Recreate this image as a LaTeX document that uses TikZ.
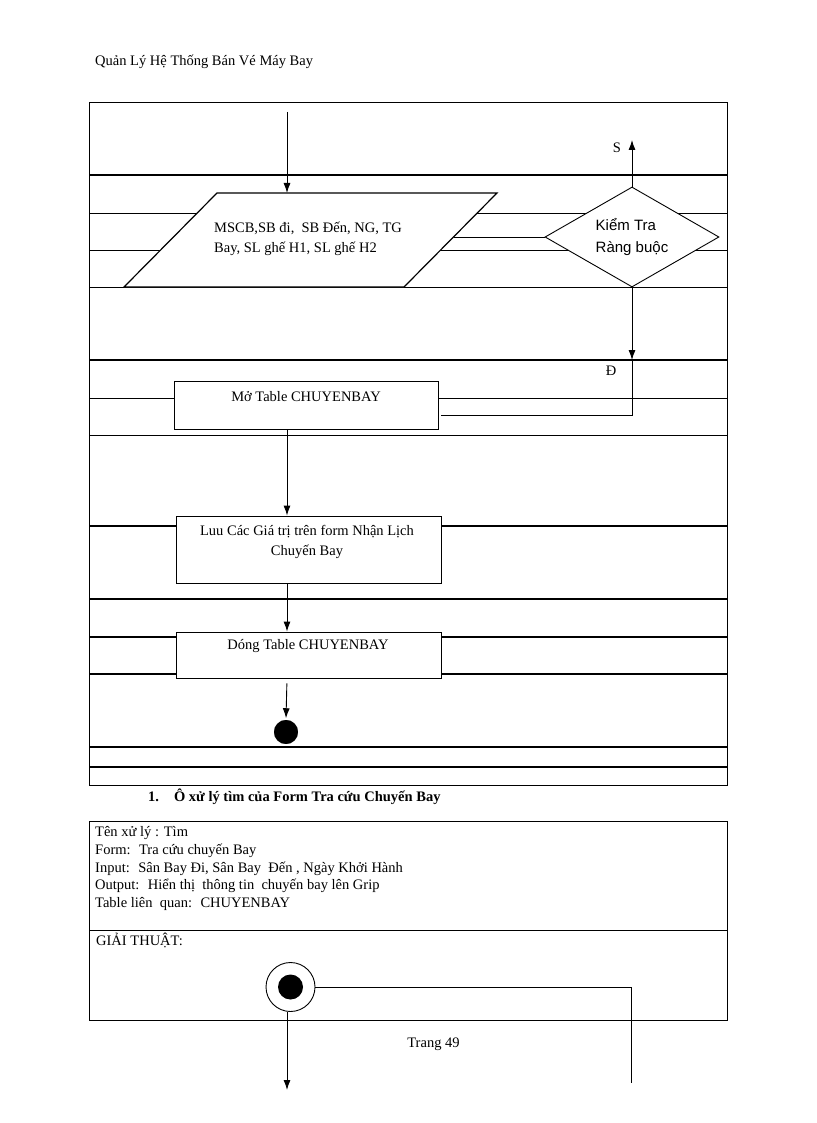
\documentclass[tikz,border=0pt]{standalone}
\usepackage{fontspec}
\setmainfont{Liberation Serif}
\newfontfamily\arialfont{Liberation Sans}
\usetikzlibrary{
    arrows.meta,
    shapes.geometric,
    positioning
}

\tikzset{
    txt/.style={font=\fontsize{14.5}{20}\selectfont, inner sep=0pt},
    box/.style={draw, fill=white, line width=0.9pt, inner sep=0pt},
    lane/.style={line width=0.9pt},
    thicklane/.style={line width=1.6pt},
    flow/.style={line width=0.9pt, -{Latex[length=10pt,width=7pt]}}
}

\begin{document}
\begin{tikzpicture}[x=1pt, y=-1pt]
                        \useasboundingbox (0,0) rectangle (816,1123);

                        \node[txt, anchor=west] (title) at (95,62) {Quản Lý Hệ Thống Bán Vé Máy Bay};

                        \draw[lane] (89,102) rectangle (727,785);
                        \foreach \y in {213,250,287,398,435}
                            \draw[lane] (89,\y) -- (727,\y);
                        \foreach \y in {175,360,526,599,637,674,747,767}
                            \draw[thicklane] (89,\y) -- (727,\y);

                        \draw[box, line width=1.2pt]
                        (124,287) -- (217,193) -- (497,193) -- (404,287) -- cycle;
                        \coordinate (inTop) at (287,193);
                        \coordinate (inRight) at (453.5,237);
                        \node[txt, align=left, anchor=west] (input) at (214,238.5)
                            {MSCB,SB đi,~ SB Đến, NG, TG\\Bay, SL ghế H1, SL ghế H2};

                        \node[diamond, draw, fill=white, line width=0.9pt, aspect=1.74,
                            minimum width=174pt, minimum height=100pt, inner sep=0pt, align=left,
                            font=\arialfont\fontsize{15}{22}\selectfont] (check) at (632,237)
                            {Kiểm Tra\\Ràng buộc};

                        \node[box, minimum width=264pt, minimum height=48pt] (mo) at (306,405) {};
                        \node[txt] (moText) at (306,397) {Mở Table CHUYENBAY};
                        \node[box, minimum width=265pt, minimum height=67pt] (luu) at (308.5,549.5) {};
                        \node[txt, align=center] (luuText) at (307,542)
                            {Luu Các Giá trị trên form Nhận Lịch\\Chuyến Bay};
                        \node[box, minimum width=265pt, minimum height=46pt] (dong) at (308.5,655) {};
                        \node[txt] (dongText) at (308,646) {Dóng Table CHUYENBAY};
                        \node[circle, fill=black, draw=white, line width=1.5pt,
                            minimum size=26pt, inner sep=0pt] (finish) at (286,732) {};

                        \coordinate (top) at (287,112);
                        \coordinate (sEnd) at (632,140);
                        \coordinate (dArrow) at (632,360);
                        \coordinate (dTurn) at (632,415);
                        \coordinate (dEnd) at (441,415);
                        \node[txt] (sLabel) at (617,148) {S};
                        \node[txt] (dLabel) at (611,371) {Đ};

                        \draw[flow] (top) -- (inTop);
                        \draw[lane] (inRight) -- (check.west);
                        \draw[flow] (check.north) -- (sEnd);
                        \draw[flow] (check.south) -- (dArrow);
                        \draw[lane] (dArrow) -- (dTurn) -- (dEnd);
                        \draw[flow] (mo.south -| inTop) -- (luu.north -| inTop);
                        \draw[flow] (luu.south -| inTop) -- (dong.north -| inTop);
                        \draw[flow, shorten <=5pt] (dong.south -| inTop) -- (finish.north);

                        \node[txt, anchor=west] (caption) at (148,797)
                            {\textbf{1.\hspace{15pt}Ô xử lý tìm của Form Tra cứu Chuyến Bay}};

                        \draw[lane] (89,821) rectangle (727,1020);
                        \draw[lane] (89,930) -- (727,930);
                        \node[txt, align=left, anchor=west, font=\fontsize{14.5}{17.8}\selectfont] (info) at (95,868.5)
                            {Tên xử lý : Tìm\\
                             Form:~ Tra cứu chuyến Bay\\
                             Input:~ Sân Bay Đi, Sân Bay~ Đến , Ngày Khởi Hành\\
                             Output:~ Hiển thị~ thông tin~ chuyến bay lên Grip\\
                             Table liên~ quan:~ CHUYENBAY};
                        \node[txt, anchor=west] (algo) at (96,940) {GIẢI THUẬT:};

                        \node[circle, draw, line width=0.9pt, minimum size=49pt, inner sep=0pt] (startRing) at (290.5,987) {};
                        \node[circle, fill=black, minimum size=25pt, inner sep=0pt] (startDot) at (startRing.center) {};
                        \coordinate (tail) at (631,1083);
                        \coordinate (down) at (287,1090);
                        \draw[lane] (startRing.east) -| (tail);
                        \draw[flow] ([xshift=-3.5pt]startRing.south) -- (down);

                        \node[txt] (page) at (433.5,1044) {Trang 49};
                    \end{tikzpicture}
\end{document}
